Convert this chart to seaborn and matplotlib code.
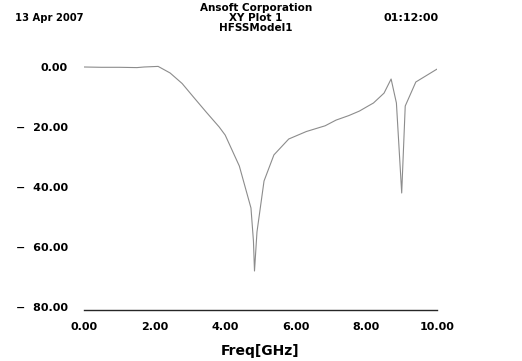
import numpy as np
import pandas as pd
import seaborn as sns
import matplotlib.pyplot as plt

# S-parameter curve
freq_ghz = [0.0, 0.5, 1.0, 1.5, 1.7, 2.1, 2.44, 2.78, 3.1, 3.46, 3.83, 4.0,
            4.4, 4.73, 4.8, 4.83, 4.9, 5.1, 5.38, 5.8, 6.3, 6.83, 7.14, 7.5,
            7.8, 8.05, 8.2, 8.5, 8.7, 8.85, 9.0, 9.1, 9.4, 9.86, 10.0]
db_values = [0.0, -0.1, -0.1, -0.2, 0.0, 0.2, -2.0, -5.5, -10.0, -15.0, -20.0, -22.7,
             -33.0, -47.0, -58.0, -68.0, -55.0, -38.0, -29.3, -24.0, -21.5, -19.6, -17.7, -16.2,
             -14.7, -13.0, -12.0, -8.7, -4.0, -12.0, -42.0, -13.0, -5.0, -1.7, -0.7]

x_ticks = [0, 2, 4, 6, 8, 10]
x_ticklabels = ["0.00", "2.00", "4.00", "6.00", "8.00", "10.00"]
y_ticks = [-80, -60, -40, -20, 0]
y_ticklabels = ["\u2212  80.00", "\u2212  60.00", "\u2212  40.00", "\u2212  20.00", "0.00"]

df = pd.DataFrame({"freq": freq_ghz, "db": db_values})

sns.set_style("white")
plt.rcParams["font.family"] = ["DejaVu Sans"]
plt.rcParams["font.weight"] = "bold"
plt.rcParams["text.color"] = "black"
plt.rcParams["xtick.color"] = "black"
plt.rcParams["ytick.color"] = "black"
plt.rcParams["axes.labelcolor"] = "black"

fig = plt.figure(figsize=(5.22, 3.61), dpi=100)
ax = fig.add_axes([84 / 522, 51 / 361, 353 / 522, 246 / 361])

sns.lineplot(data=df, x="freq", y="db", ax=ax, color="0.55", linewidth=0.8)

ax.set_xlim(0, 10)
ax.set_ylim(-81, 1)
ax.set_xticks(x_ticks)
ax.set_xticklabels(x_ticklabels, fontsize=8, fontweight="bold")
ax.set_yticks(y_ticks)
ax.set_yticklabels(y_ticklabels, fontsize=8, fontweight="bold")
ax.tick_params(axis="x", length=0, pad=9)
ax.tick_params(axis="y", length=0, pad=11.5)
ax.set_xlabel("Freq[GHz]", fontsize=10, fontweight="bold", labelpad=8)
ax.set_ylabel("")

for side in ["top", "left", "right"]:
    ax.spines[side].set_visible(False)
ax.spines["bottom"].set_color("0.15")
ax.spines["bottom"].set_linewidth(1.0)

fig.text(15 / 522, 1 - 18 / 361, "13 Apr 2007", fontsize=7.2, fontweight="bold", va="center")
fig.text(383 / 522, 1 - 18 / 361, "01:12:00", fontsize=8, fontweight="bold", va="center")
fig.text(256 / 522, 1 - 8 / 361, "Ansoft Corporation", fontsize=7.5, fontweight="bold",
         ha="center", va="center")
fig.text(256 / 522, 1 - 18 / 361, "XY Plot 1", fontsize=7.5, fontweight="bold",
         ha="center", va="center")
fig.text(256 / 522, 1 - 28 / 361, "HFSSModel1", fontsize=7.5, fontweight="bold",
         ha="center", va="center")

fig.savefig("out.png", dpi=100)
